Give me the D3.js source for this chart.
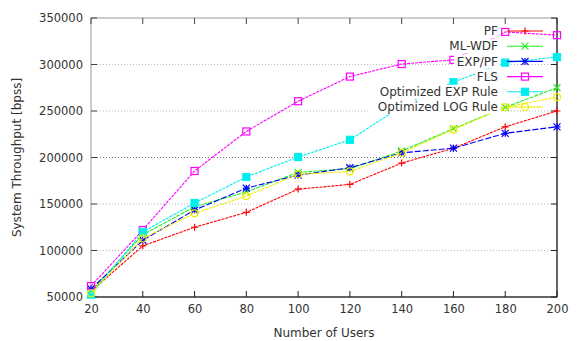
<!DOCTYPE html>
<html>
<head>
<meta charset="utf-8">
<script src="https://cdn.jsdelivr.net/npm/d3@7"></script>
<style>
  body { margin: 0; background: #fff; }
  text { font-family: "DejaVu Sans", sans-serif; }
</style>
</head>
<body>
<div id="chart"></div>
<script>
var users = [20, 40, 60, 80, 100, 120, 140, 160, 180, 200];
var yTicks = [50000, 100000, 150000, 200000, 250000, 300000, 350000];

var pf      = [56000, 105000, 125000, 141000, 166000, 171000, 194000, 210000, 233000, 250000];
var mlwdf   = [56000, 117000, 147000, 163000, 184000, 188000, 207000, 231000, 254000, 275000];
var exppf   = [58600, 111000, 143500, 167000, 181000, 189000, 205000, 210000, 226000, 233000];
var fls     = [61800, 122000, 185500, 228000, 260500, 287000, 300500, 305000, 335000, 331500];
var optExp  = [52500, 120000, 151000, 179000, 200500, 219000, 255000, 281000, 302000, 308000];
var optLog  = [54000, 113000, 140000, 158500, 182000, 185000, 205000, 230000, 254000, 265000];

var seriesNames = ["PF", "ML-WDF", "EXP/PF", "FLS", "Optimized EXP Rule", "Optimized LOG Rule"];
var seriesData = [pf, mlwdf, exppf, fls, optExp, optLog];
var colors = ["#ff0000", "#22ee22", "#0000ff", "#ff00ff", "#00eeee", "#eeee00"];
var symbols = ["plus", "cross", "star", "square", "fsquare", "circle"];
var dashes = ["3,1", "4,1", "6,2", "3,1", "3,1", "3,1"];

var W = 581, H = 341;
var margin = {top: 18, right: 24, bottom: 44, left: 91};
var width = W - margin.left - margin.right,
    height = H - margin.top - margin.bottom;

var svg = d3.select("#chart").append("svg")
    .attr("width", W)
    .attr("height", H);

var g = svg.append("g")
    .attr("transform", "translate(" + margin.left + "," + margin.top + ")");

var x = d3.scaleLinear().domain([20, 200]).range([0, width]);
var y = d3.scaleLinear().domain([50000, 350000]).range([height, 0]);

// grid
g.append("g").selectAll("line")
  .data(yTicks.slice(1, -1))
  .enter().append("line")
    .attr("x1", 0).attr("x2", width)
    .attr("y1", function(d) { return y(d); })
    .attr("y2", function(d) { return y(d); })
    .attr("stroke", function(d) { return d == 200000 ? "#777" : "#bbb"; })
    .attr("stroke-dasharray", "1,2");

// frame
g.append("rect")
  .attr("width", width).attr("height", height)
  .attr("fill", "none").attr("stroke", "#999");
g.append("line").attr("x1", 0).attr("x2", width).attr("y1", height).attr("y2", height)
  .attr("stroke", "#000");
g.append("line").attr("x1", width).attr("x2", width).attr("y1", 0).attr("y2", height)
  .attr("stroke", "#000");

// axes with inward ticks
var xAxis = g.append("g")
  .attr("transform", "translate(0," + height + ")")
  .call(d3.axisBottom(x).tickValues(users).tickSize(0).tickPadding(8));
xAxis.select(".domain").remove();
xAxis.selectAll("text").attr("font-size", 11.5).attr("fill", "#333");

var yAxis = g.append("g")
  .call(d3.axisLeft(y).tickValues(yTicks).tickFormat(d3.format("d")).tickSize(0).tickPadding(8));
yAxis.select(".domain").remove();
yAxis.selectAll("text").attr("font-size", 11.5).attr("fill", "#333");

users.forEach(function(u) {
  g.append("line").attr("x1", x(u)).attr("x2", x(u)).attr("y1", height).attr("y2", height - 6).attr("stroke", "#222");
  g.append("line").attr("x1", x(u)).attr("x2", x(u)).attr("y1", 0).attr("y2", 6).attr("stroke", "#444");
});
yTicks.forEach(function(t) {
  g.append("line").attr("x1", 0).attr("x2", 6).attr("y1", y(t)).attr("y2", y(t)).attr("stroke", "#444");
  g.append("line").attr("x1", width).attr("x2", width - 6).attr("y1", y(t)).attr("y2", y(t)).attr("stroke", "#222");
});

// axis titles
svg.append("text")
  .attr("x", margin.left + width / 2).attr("y", 337)
  .attr("text-anchor", "middle").attr("font-size", 12).attr("fill", "#333")
  .text("Number of Users");
svg.append("text")
  .attr("transform", "translate(21," + (margin.top + height / 2) + ") rotate(-90)")
  .attr("text-anchor", "middle").attr("font-size", 12).attr("fill", "#333")
  .text("System Throughput [bpss]");

// legend background
var legX = 498, legY0 = 31, legStep = 15.2;
seriesNames.forEach(function(n, i) {
  var tw = n.length * 7;
  svg.append("rect")
    .attr("x", legX - tw - 2).attr("y", legY0 + i * legStep - 7)
    .attr("width", tw + 4).attr("height", 14)
    .attr("fill", "#fff");
});

function drawSymbol(sel, type, color, cx, cy) {
  var s = 3.5;
  if (type == "plus" || type == "star") {
    sel.append("path").attr("d", "M" + (cx - s) + "," + cy + "H" + (cx + s) + "M" + cx + "," + (cy - s) + "V" + (cy + s))
      .attr("stroke", color).attr("stroke-width", 1.2);
  }
  if (type == "cross" || type == "star") {
    sel.append("path").attr("d", "M" + (cx - s) + "," + (cy - s) + "L" + (cx + s) + "," + (cy + s) + "M" + (cx - s) + "," + (cy + s) + "L" + (cx + s) + "," + (cy - s))
      .attr("stroke", color).attr("stroke-width", 1.2);
  }
  if (type == "square" || type == "fsquare") {
    sel.append("rect").attr("x", cx - s).attr("y", cy - s).attr("width", 2 * s).attr("height", 2 * s)
      .attr("fill", type == "fsquare" ? color : "none").attr("stroke", color).attr("stroke-width", 1.2);
  }
  if (type == "circle") {
    sel.append("circle").attr("cx", cx).attr("cy", cy).attr("r", s)
      .attr("fill", "none").attr("stroke", color).attr("stroke-width", 1.2);
  }
}

var line = d3.line()
  .x(function(d, i) { return x(users[i]); })
  .y(function(d) { return y(d); });

seriesData.forEach(function(vals, k) {
  var sg = g.append("g");
  sg.append("path")
    .datum(vals)
    .attr("fill", "none")
    .attr("stroke", colors[k])
    .attr("stroke-width", 1.1)
    .attr("stroke-dasharray", dashes[k])
    .attr("d", line);
  vals.forEach(function(v, i) {
    drawSymbol(sg, symbols[k], colors[k], x(users[i]), y(v));
  });
});

// legend
seriesNames.forEach(function(n, i) {
  var ly = legY0 + i * legStep;
  svg.append("text")
    .attr("x", legX).attr("y", ly).attr("dy", "0.35em")
    .attr("text-anchor", "end").attr("font-size", 12).attr("fill", "#333")
    .text(n);
  svg.append("line")
    .attr("x1", 507).attr("x2", 543).attr("y1", ly).attr("y2", ly)
    .attr("stroke", colors[i]).attr("stroke-width", 1.1);
  drawSymbol(svg, symbols[i], colors[i], 525, ly);
});
</script>
</body>
</html>
